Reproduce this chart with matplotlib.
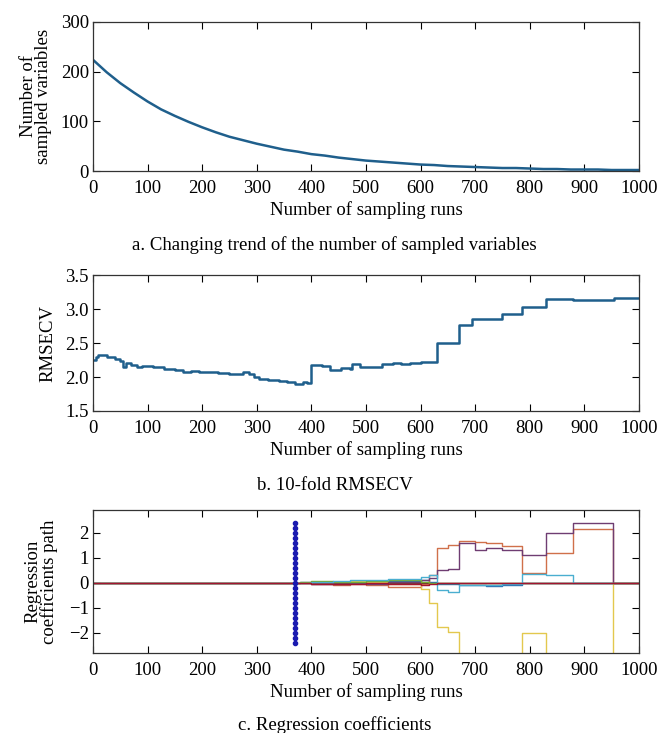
import numpy as np
import matplotlib
matplotlib.use("Agg")
import matplotlib.pyplot as plt

plt.rcParams["font.family"] = ["Liberation Serif", "DejaVu Serif"]
plt.rcParams["font.size"] = 13.5
plt.rcParams["axes.unicode_minus"] = True

# a. number of sampled variables vs sampling run
runs_a = [0, 25, 50, 75, 100, 125, 150, 175, 200, 225, 250, 275, 300, 325, 350,
          375, 400, 425, 450, 475, 500, 525, 550, 575, 600, 625, 650, 675, 700,
          725, 750, 775, 800, 825, 850, 875, 900, 925, 950, 975, 1000]
n_vars = [224, 199, 177, 158, 140, 124, 111, 99, 88, 78, 69, 62, 55, 49, 43,
          39, 34, 31, 27, 24, 21, 19, 17, 15, 13, 12, 10, 9, 8,
          7, 6, 6, 5, 4, 4, 3, 3, 3, 2, 2, 2]

# b. 10-fold RMSECV (step curve)
runs_b = [0, 5, 10, 25, 40, 50, 55, 60, 70, 80, 90, 110, 130, 150, 165, 180,
          195, 210, 230, 250, 265, 275, 285, 295, 305, 320, 340, 355, 370, 385,
          392, 400, 420, 435, 455, 470, 475, 490, 515, 530, 550, 565, 580, 600,
          615, 630, 670, 695, 750, 785, 830, 880, 955, 1000]
rmsecv = [2.25, 2.30, 2.32, 2.30, 2.27, 2.24, 2.15, 2.20, 2.18, 2.15, 2.16,
          2.14, 2.12, 2.10, 2.07, 2.09, 2.08, 2.07, 2.06, 2.05, 2.05, 2.08,
          2.04, 2.00, 1.97, 1.95, 1.94, 1.93, 1.90, 1.92, 1.91, 2.18, 2.16,
          2.11, 2.13, 2.12, 2.19, 2.15, 2.15, 2.19, 2.21, 2.19, 2.21, 2.22,
          2.22, 2.50, 2.77, 2.85, 2.93, 3.03, 3.15, 3.13, 3.16, 3.16]

# c. regression coefficient paths (step curves)
runs_c = [0, 380, 400, 440, 470, 500, 540, 600, 615, 630, 650, 670, 700, 720,
          750, 785, 830, 880, 953, 1000]
coef_blue = [0, 0.02, -0.05, 0.03, 0.05, 0.02, 0.08, 0.10, 0.05, -0.05, -0.05,
             -0.08, -0.10, -0.12, -0.08, 0, 0, 0, 0, 0]
coef_orange = [0, 0, -0.05, -0.08, -0.05, -0.10, -0.15, -0.05, 0.30, 1.40,
               1.52, 1.65, 1.62, 1.60, 1.48, 0.40, 1.18, 2.15, 0, 0]
coef_yellow = [0, 0, 0.02, 0.05, 0.08, 0.05, -0.05, -0.25, -0.80, -1.75,
               -1.95, -3.5, -3.5, -3.5, -3.5, -2.0, -3.5, -3.5, 0, 0]
coef_purple = [0, 0, 0.03, -0.03, 0, -0.05, 0.05, 0.10, 0.20, 0.50, 0.55,
               1.60, 1.32, 1.40, 1.30, 1.12, 2.00, 2.38, 0, 0]
coef_green = [0, 0.03, 0.06, 0.02, 0.05, 0.08, 0.10, 0.05, 0, 0, 0, 0, 0, 0,
              0, 0, 0, 0, 0, 0]
coef_cyan = [0, 0, 0.05, 0.08, 0.10, 0.12, 0.15, 0.25, 0.30, -0.30, -0.38,
             -0.10, -0.10, -0.08, -0.05, 0.35, 0.30, 0, 0, 0]
coef_darkred = [0, -0.02, -0.03, -0.05, -0.03, -0.02, -0.05, -0.10, -0.05, 0,
                0, 0, 0, 0, 0, 0, 0, 0, 0, 0]
optimal_run = 370

line_col = "#1f5f8c"
xticks = np.arange(0, 1001, 100)

fig = plt.figure(figsize=(6.59, 7.33), dpi=100)
ax1 = fig.add_axes([0.141, 0.7667, 0.8285, 0.2033])
ax2 = fig.add_axes([0.141, 0.4393, 0.8285, 0.1855])
ax3 = fig.add_axes([0.141, 0.1091, 0.8285, 0.1951])


def style(ax):
    ax.set_xlim(0, 1000)
    ax.set_xticks(xticks)
    ax.tick_params(direction="in", top=True, right=True, length=5, width=0.8,
                   labelsize=13.5, pad=3)
    ax.tick_params(axis="x", pad=6.5)
    for s in ax.spines.values():
        s.set_linewidth(0.9)
        s.set_color("#333333")
    ax.set_xlabel("Number of sampling runs", fontsize=13.5, labelpad=3)


ax1.plot(runs_a, n_vars, color=line_col, lw=1.8)
ax1.set_ylim(0, 300)
ax1.set_yticks([0, 100, 200, 300])
ax1.set_ylabel("Number of\nsampled variables", fontsize=13.5, linespacing=0.9,
               labelpad=6)
style(ax1)

ax2.step(runs_b, rmsecv, where="post", color=line_col, lw=1.8)
ax2.set_ylim(1.5, 3.5)
ax2.set_yticks([1.5, 2.0, 2.5, 3.0, 3.5])
ax2.set_yticklabels(["1.5", "2.0", "2.5", "3.0", "3.5"])
ax2.set_ylabel("RMSECV", fontsize=13.5, labelpad=6)
style(ax2)

paths = [(coef_blue, "#2a6fb0"), (coef_orange, "#d0704a"),
         (coef_yellow, "#e3c84e"), (coef_purple, "#6f3d72"),
         (coef_green, "#77AC30"), (coef_cyan, "#4aaed0"),
         (coef_darkred, "#A2142F")]
for vals, c in paths:
    ax3.step(runs_c, vals, where="post", color=c, lw=1.0)
ax3.axhline(0, color="#5a1a2a", lw=1.0, zorder=1)
dots = np.linspace(-2.4, 2.4, 25)
ax3.plot(np.full_like(dots, optimal_run), dots, ls="none", marker="o",
         ms=3.0, color="#1a1ab0", zorder=5)
ax3.set_ylim(-2.8, 2.9)
ax3.set_yticks([-2, -1, 0, 1, 2])
ax3.set_ylabel("Regression\ncoefficients path", fontsize=13.5,
               linespacing=0.9, labelpad=8)
style(ax3)

fig.text(0.508, 1 - 245 / 733, "a. Changing trend of the number of sampled variables",
         ha="center", va="center", fontsize=13.5)
fig.text(0.508, 1 - 485 / 733, "b. 10-fold RMSECV",
         ha="center", va="center", fontsize=13.5)
fig.text(0.508, 1 - 725 / 733, "c. Regression coefficients",
         ha="center", va="center", fontsize=13.5)

fig.savefig("out.png", dpi=100)
